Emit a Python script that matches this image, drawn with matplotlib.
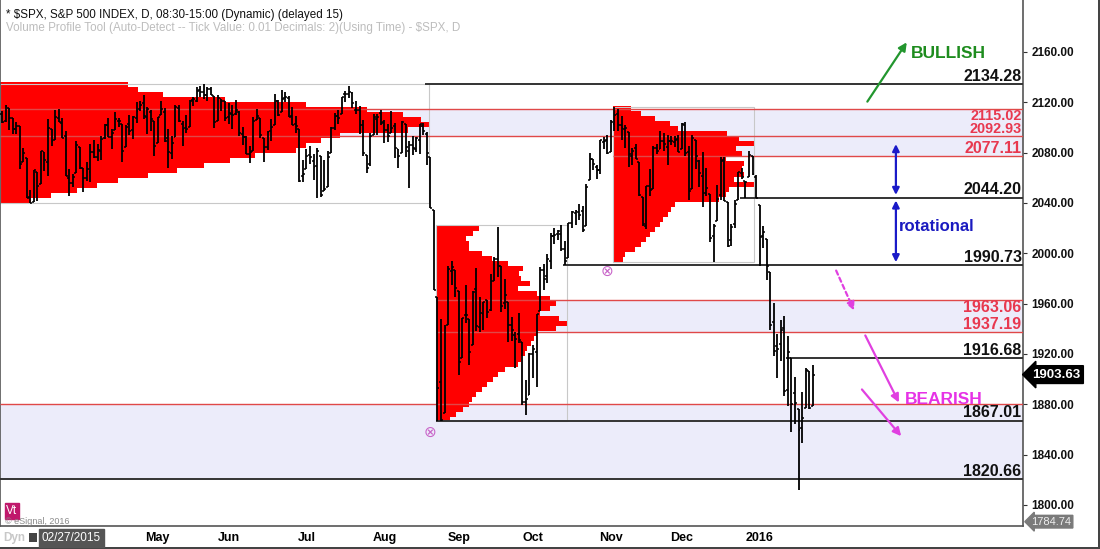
import matplotlib
matplotlib.use("Agg")
import matplotlib.pyplot as plt
from matplotlib.patches import Rectangle
import numpy as np
import pandas as pd

plt.rcParams['font.family'] = ['Liberation Sans', 'DejaVu Sans']

# ---- daily $SPX bars, 02/27/2015 .. 01/26/2016 ----
market_holidays = ['2015-04-03', '2015-05-25', '2015-07-03', '2015-09-07',
                   '2015-11-26', '2015-12-25', '2016-01-01', '2016-01-18']
dates = pd.bdate_range('2015-02-27', '2016-01-26', freq='C', holidays=market_holidays)

opens = [
    2110.9,
    2105.2, 2115.8, 2107.7, 2098.5, 2100.9, 2072.3, 2076.1, 2044.7, 2041.1, 2064.6, 2055.4, 2080.6, 2072.8, 2098.7, 2090.3, 2107.9, 2103.9, 2093.1, 2059.9, 2055.8, 2064.1, 2084.1,
    2067.6, 2060.0, 2064.9, 2080.8, 2076.9, 2081.3, 2091.5, 2102.0, 2092.3, 2097.8, 2105.0, 2102.6, 2084.1, 2102.8, 2098.3, 2107.2, 2114.8, 2119.3, 2108.4, 2112.5, 2105.5,
    2087.4, 2110.2, 2112.6, 2091.3, 2079.9, 2092.1, 2115.6, 2102.9, 2099.6, 2100.4, 2122.1, 2121.3, 2129.5, 2127.8, 2125.6, 2130.4, 2125.3, 2105.1, 2122.3, 2120.7,
    2108.6, 2110.4, 2110.6, 2112.4, 2095.1, 2092.3, 2079.1, 2081.1, 2106.2, 2107.4, 2091.3, 2084.3, 2097.4, 2101.6, 2121.1, 2112.5, 2123.2, 2123.2, 2109.1, 2102.6, 2098.6, 2061.2,
    2067.0, 2078.0, 2073.0, 2069.5, 2077.7, 2049.7, 2052.7, 2080.0, 2099.7, 2109.0, 2110.6, 2126.8, 2126.9, 2127.2, 2114.2, 2114.2, 2102.2, 2078.2, 2070.8, 2094.0, 2106.8, 2111.6,
    2104.5, 2097.7, 2095.3, 2100.8, 2082.6, 2080.0, 2102.7, 2081.1, 2086.2, 2083.2, 2089.7, 2101.4, 2094.5, 2076.6, 2034.1, 1965.2, 1898.1, 1872.8, 1942.8, 1986.1, 1986.7,
    1970.1, 1916.5, 1950.8, 1947.8, 1927.3, 1971.5, 1941.6, 1951.5, 1963.1, 1955.1, 1978.0, 1995.3, 1989.7, 1960.8, 1961.4, 1943.2, 1934.8, 1935.9, 1929.2, 1881.9, 1887.1,
    1919.7, 1921.8, 1954.3, 1986.6, 1982.3, 1994.0, 2013.7, 2015.7, 2015.0, 2003.7, 1996.5, 2024.4, 2031.7, 2033.1, 2033.5, 2021.9, 2058.2, 2075.1, 2068.8, 2066.5, 2088.4, 2090.0,
    2080.8, 2102.6, 2110.6, 2101.7, 2098.6, 2096.6, 2077.2, 2083.4, 2072.3, 2044.6, 2022.1, 2053.7, 2051.0, 2083.7, 2082.8, 2089.4, 2084.4, 2089.3, 2088.8, 2090.9,
    2082.9, 2101.7, 2080.7, 2051.2, 2090.4, 2073.4, 2061.2, 2047.9, 2047.3, 2013.4, 2025.6, 2046.5, 2073.8, 2040.8, 2010.3, 2023.2, 2042.2, 2063.5, 2057.8, 2060.5, 2077.3, 2060.6,
    2038.2, 2013.8, 2011.7, 1985.3, 1945.2, 1926.1, 1927.8, 1940.3, 1891.7, 1916.7, 1888.7, 1876.2, 1861.5, 1877.4, 1906.3, 1878.8,
]
highs = [
    2112.7,
    2117.5, 2115.8, 2107.7, 2104.3, 2100.9, 2083.5, 2076.1, 2050.1, 2066.4, 2064.6, 2081.4, 2080.6, 2106.9, 2098.7, 2113.9, 2114.9, 2107.6, 2097.4, 2067.2, 2062.8, 2088.9, 2084.1,
    2067.6, 2072.2, 2086.9, 2089.8, 2086.7, 2093.3, 2102.6, 2107.7, 2098.6, 2111.9, 2107.9, 2102.6, 2101.9, 2109.6, 2109.0, 2120.5, 2120.9, 2125.9, 2116.0, 2113.7, 2105.5,
    2108.4, 2120.9, 2115.2, 2098.4, 2092.9, 2117.7, 2117.7, 2105.1, 2110.2, 2121.5, 2123.9, 2131.8, 2133.0, 2134.7, 2131.8, 2132.2, 2125.3, 2126.2, 2122.3, 2120.7,
    2119.2, 2117.6, 2121.9, 2112.9, 2100.0, 2093.0, 2085.6, 2108.5, 2115.0, 2107.4, 2091.3, 2097.4, 2106.8, 2126.7, 2121.6, 2129.9, 2128.0, 2125.1, 2116.0, 2108.9, 2098.6, 2074.3,
    2082.8, 2085.1, 2078.6, 2083.7, 2077.7, 2074.3, 2081.3, 2100.7, 2111.4, 2114.1, 2124.4, 2128.9, 2132.8, 2128.5, 2121.1, 2116.9, 2106.0, 2078.2, 2095.6, 2110.6, 2110.5, 2114.2,
    2105.7, 2102.5, 2112.7, 2103.3, 2082.6, 2105.4, 2102.7, 2089.1, 2092.9, 2092.5, 2102.9, 2103.5, 2096.2, 2076.6, 2034.1, 1965.2, 1948.0, 1943.1, 1989.6, 1993.5, 1986.7,
    1970.1, 1948.9, 1975.0, 1947.8, 1970.4, 1988.6, 1965.3, 1961.1, 1963.1, 1983.2, 1997.3, 2020.9, 1989.7, 1979.6, 1961.4, 1949.5, 1937.2, 1952.9, 1929.2, 1899.5, 1920.5,
    1927.2, 1951.4, 1989.2, 1991.6, 1999.3, 2016.5, 2020.1, 2018.7, 2022.3, 2009.6, 2024.2, 2033.5, 2034.5, 2039.1, 2037.9, 2055.2, 2079.7, 2075.1, 2070.4, 2090.4, 2092.5, 2094.3,
    2106.2, 2116.5, 2114.6, 2108.8, 2101.9, 2096.6, 2083.7, 2086.9, 2072.3, 2044.6, 2053.2, 2066.7, 2085.3, 2086.7, 2097.1, 2095.6, 2094.1, 2093.0, 2093.3, 2093.8,
    2103.4, 2104.3, 2085.0, 2093.8, 2090.4, 2073.9, 2080.3, 2067.7, 2047.3, 2022.9, 2053.9, 2076.7, 2076.4, 2040.8, 2022.9, 2042.7, 2064.7, 2067.4, 2057.8, 2081.6, 2077.3, 2062.5,
    2038.2, 2021.9, 2011.7, 1985.3, 1960.4, 1935.7, 1947.4, 1950.3, 1934.5, 1916.7, 1901.4, 1876.2, 1889.9, 1908.9, 1906.3, 1911.0,
]
lows = [
    2103.8,
    2104.5, 2098.3, 2094.5, 2095.2, 2067.3, 2072.2, 2044.2, 2039.7, 2041.1, 2041.2, 2055.4, 2065.1, 2061.2, 2085.6, 2090.3, 2104.4, 2091.5, 2061.1, 2045.5, 2052.9, 2064.1, 2067.0,
    2048.4, 2057.3, 2056.5, 2076.1, 2073.3, 2074.3, 2091.1, 2092.3, 2083.2, 2097.8, 2100.3, 2072.4, 2084.1, 2094.4, 2091.1, 2103.2, 2112.8, 2107.0, 2094.9, 2097.4, 2077.6,
    2087.4, 2110.2, 2088.5, 2067.9, 2074.9, 2092.1, 2104.6, 2085.6, 2096.0, 2100.4, 2116.8, 2120.0, 2124.5, 2122.6, 2120.9, 2126.1, 2099.2, 2105.1, 2112.8, 2104.9,
    2102.5, 2099.1, 2109.6, 2093.2, 2085.7, 2079.1, 2072.1, 2081.1, 2106.2, 2091.3, 2072.5, 2082.1, 2088.9, 2101.6, 2109.5, 2112.5, 2119.9, 2108.6, 2101.8, 2095.4, 2056.6, 2056.3,
    2067.0, 2071.0, 2058.4, 2044.0, 2044.5, 2049.7, 2052.7, 2080.0, 2098.2, 2102.5, 2110.6, 2119.9, 2123.7, 2115.4, 2110.4, 2094.9, 2077.1, 2063.5, 2069.1, 2094.0, 2094.1, 2102.1,
    2087.3, 2088.6, 2095.3, 2075.5, 2067.9, 2080.0, 2076.5, 2052.1, 2078.3, 2080.6, 2079.3, 2094.1, 2070.5, 2035.7, 1970.9, 1867.0, 1867.1, 1872.8, 1942.8, 1975.2, 1965.5,
    1903.1, 1916.5, 1944.7, 1911.2, 1927.3, 1937.9, 1937.2, 1939.2, 1948.3, 1954.3, 1977.9, 1980.8, 1953.5, 1955.8, 1929.2, 1930.0, 1908.9, 1928.9, 1879.2, 1871.9, 1887.1,
    1900.7, 1893.7, 1954.3, 1971.2, 1976.4, 1987.5, 2007.6, 2010.6, 2001.8, 1990.7, 1996.5, 2020.5, 2022.3, 2026.6, 2017.2, 2021.9, 2058.2, 2066.5, 2058.8, 2063.1, 2082.6, 2079.1,
    2080.8, 2097.5, 2096.9, 2090.4, 2083.7, 2068.2, 2069.9, 2074.9, 2045.7, 2022.0, 2019.4, 2045.9, 2051.0, 2078.8, 2082.8, 2081.4, 2070.3, 2086.3, 2084.1, 2080.4,
    2082.9, 2077.1, 2042.4, 2051.2, 2066.8, 2052.3, 2036.5, 2045.7, 2008.8, 1993.3, 2025.6, 2042.4, 2041.7, 2005.3, 2005.9, 2020.5, 2042.2, 2058.7, 2044.2, 2060.5, 2061.9, 2043.6,
    1989.7, 2004.2, 1979.1, 1938.8, 1918.5, 1901.1, 1914.4, 1886.5, 1878.9, 1857.8, 1864.6, 1812.3, 1848.9, 1877.4, 1875.9, 1878.8,
]
closes = [
    2104.5,
    2117.4, 2107.8, 2098.5, 2101.0, 2071.3, 2079.4, 2044.2, 2040.2, 2066.0, 2053.4, 2081.2, 2074.3, 2099.5, 2089.3, 2108.1, 2104.4, 2091.5, 2061.1, 2056.2, 2061.0, 2086.2, 2067.9,
    2059.7, 2067.0, 2080.6, 2076.3, 2081.9, 2091.2, 2102.1, 2092.4, 2095.8, 2106.6, 2105.0, 2081.2, 2100.4, 2097.3, 2108.0, 2112.9, 2117.7, 2108.9, 2114.8, 2106.9, 2085.5,
    2108.3, 2114.5, 2089.5, 2080.2, 2088.0, 2116.1, 2105.3, 2099.1, 2098.5, 2121.1, 2122.7, 2129.2, 2127.8, 2125.9, 2130.8, 2126.1, 2104.2, 2123.5, 2120.8, 2107.4,
    2111.7, 2109.6, 2114.1, 2095.8, 2092.8, 2079.3, 2080.2, 2105.2, 2108.9, 2094.1, 2084.4, 2096.3, 2100.4, 2121.2, 2110.0, 2122.9, 2124.2, 2108.6, 2102.3, 2101.5, 2057.6, 2063.1,
    2077.4, 2076.8, 2068.8, 2081.3, 2046.7, 2051.3, 2076.6, 2099.6, 2109.0, 2107.4, 2124.3, 2126.6, 2128.3, 2119.2, 2114.2, 2102.2, 2079.7, 2067.6, 2093.3, 2108.6, 2108.6, 2103.8,
    2098.0, 2093.3, 2099.8, 2083.6, 2077.6, 2104.2, 2084.1, 2086.1, 2083.4, 2091.5, 2102.4, 2096.9, 2079.6, 2035.7, 1970.9, 1893.2, 1867.6, 1940.5, 1987.7, 1988.9, 1972.2,
    1913.9, 1948.9, 1951.1, 1921.2, 1969.4, 1942.0, 1952.3, 1961.1, 1953.0, 1978.1, 1995.3, 1990.2, 1958.0, 1967.0, 1942.7, 1938.8, 1932.2, 1931.3, 1881.8, 1884.1, 1920.0,
    1923.8, 1951.4, 1987.1, 1979.9, 1995.8, 2013.4, 2014.9, 2017.5, 2003.7, 1994.2, 2023.9, 2033.1, 2033.7, 2030.8, 2018.9, 2052.5, 2075.2, 2071.2, 2065.9, 2090.4, 2089.4, 2079.4,
    2104.1, 2109.8, 2102.3, 2099.9, 2099.2, 2078.6, 2081.7, 2075.0, 2046.0, 2023.0, 2053.2, 2050.4, 2083.6, 2081.2, 2089.2, 2086.6, 2089.1, 2088.9, 2090.1, 2080.4,
    2102.6, 2079.5, 2049.6, 2091.7, 2077.1, 2063.6, 2047.6, 2052.2, 2012.4, 2021.9, 2043.4, 2073.1, 2041.9, 2005.6, 2021.2, 2039.0, 2064.3, 2061.0, 2056.5, 2078.4, 2063.4, 2043.9,
    2012.7, 2016.7, 1990.3, 1943.1, 1922.0, 1923.7, 1938.7, 1890.3, 1921.8, 1880.3, 1881.3, 1859.3, 1869.0, 1906.9, 1877.1, 1903.6,
]

# ---- volume profiles (time at price, 4-point bins, bin bottoms) ----
vp1_from, vp1_to = '2015-02-27', '2015-08-19'
vp1_prices = list(range(2040, 2136, 4))
vp1_counts = [30, 50, 75, 95, 115, 145, 173, 200, 225, 250, 290, 300,
              315, 333, 400, 420, 413, 395, 360, 300, 220, 160, 135, 125]

vp2_from, vp2_to = '2015-08-24', '2015-10-14'
vp2_prices = list(range(1866, 2022, 4))
vp2_counts = [14, 20, 26, 32, 35, 39, 45, 49, 55, 60, 67, 79, 82, 86, 88, 92, 95, 97,
              116, 126, 119, 100, 110, 116, 110, 97, 79, 91, 82, 80, 84, 70, 54, 45,
              32, 32, 29, 36, 42]

vp3_from, vp3_to = '2015-11-03', '2015-12-30'
vp3_prices = list(range(1993, 2117, 4))
vp3_counts = [10, 12, 22, 28, 33, 37, 42, 47, 50, 55, 58, 62, 105, 112, 115, 140,
              120, 130, 128, 130, 112, 128, 122, 140, 125, 113, 65, 57, 42, 28, 18]

# ---- key levels ----
level_prices = [2134.28, 2115.02, 2092.93, 2077.11, 2044.20, 1990.73,
                1963.06, 1937.19, 1916.68, 1880.50, 1867.01, 1820.66]
level_from = ['2015-08-19', '2015-02-27', '2015-02-27', '2015-11-03', '2015-12-24', '2015-10-14',
              '2015-08-24', '2015-08-24', '2016-01-14', '2015-02-27', '2015-08-24', '2015-02-27']
level_kind = ['black', 'red', 'red', 'red', 'black', 'black',
              'red', 'red', 'black', 'red', 'black', 'black']
level_labelled = [True, True, True, True, True, True, True, True, True, False, True, True]
level_label_below = [False, True, False, False, False, False, True, False, False, False, False, False]

band_low = [2092.93, 2077.11, 1937.19, 1820.66]
band_high = [2115.02, 2092.93, 1963.06, 1880.50]
band_from = ['2015-02-27', '2015-11-03', '2015-08-24', '2015-02-27']

pivot_dates = ['2015-08-20', '2015-10-30']
pivot_prices = [1858, 1986]

month_labels = ['May', 'Jun', 'Jul', 'Aug', 'Sep', 'Oct', 'Nov', 'Dec', '2016']
month_starts = ['2015-05-01', '2015-06-01', '2015-07-01', '2015-08-03', '2015-09-01',
                '2015-10-01', '2015-11-02', '2015-12-01', '2016-01-04']

last_price = 1903.63
axis_low = 1784.74


def idx(d):
    return int(dates.get_loc(pd.Timestamp(d)))


W, H = 1100, 549
fig = plt.figure(figsize=(11, 5.49), dpi=100)
ax = fig.add_axes([0, 23 / H, 1023 / W, 1 - 23 / H])
x = np.arange(len(dates))
x_right = 288.4
ax.set_xlim(-0.56, x_right)
ax.set_ylim(1783.3, 2201.3)

LAV = '#ECECFA'
RED_LINE = '#E04848'
RED_TXT = '#E8384F'

for lo, hi, d in zip(band_low, band_high, band_from):
    ax.add_patch(Rectangle((idx(d) - 0.5, lo), x_right - idx(d) + 0.5, hi - lo,
                           color=LAV, lw=0, zorder=0.5))

# volume profiles, longest row stretched over the profile's date range
for d0, d1, prices, counts in [(vp1_from, vp1_to, vp1_prices, vp1_counts),
                               (vp2_from, vp2_to, vp2_prices, vp2_counts),
                               (vp3_from, vp3_to, vp3_prices, vp3_counts)]:
    i0, i1 = idx(d0), idx(d1)
    span = i1 - i0 + 1
    c = np.array(counts, dtype=float)
    ax.barh(prices, c / c.max() * span, height=4, left=i0 - 0.5, align='edge',
            color='#FF0000', lw=0, zorder=2)
    lo = min(lows[i0:i1 + 1])
    hi = max(highs[i0:i1 + 1])
    ax.add_patch(Rectangle((i0 - 0.5, lo), span, hi - lo, fill=False,
                           ec='#C8C8C8', lw=0.8, zorder=2.5))

# levels
tight_pair = {2115.02, 2092.93}
for p, d, k, lab, below in zip(level_prices, level_from, level_kind,
                               level_labelled, level_label_below):
    col = '#333333' if k == 'black' else RED_LINE
    ax.hlines(p, idx(d) - 0.5, x_right, color=col, lw=1.4 if k == 'black' else 1.0, zorder=3)
    if lab:
        ax.text(x_right - 0.4, p + (-0.5 if below else 0.3), f'{p:.2f}',
                ha='right', va='top' if below else 'bottom',
                color='#111111' if k == 'black' else RED_TXT,
                fontsize=10.4 if p in tight_pair else 11.5, fontweight='bold', zorder=5)

# OHLC bars
ax.vlines(x, lows, highs, color='black', lw=1.3, zorder=4)
ax.hlines(opens, x - 0.55, x, color='black', lw=1.1, zorder=4)
ax.hlines(closes, x, x + 0.55, color='black', lw=1.1, zorder=4)

for d, p in zip(pivot_dates, pivot_prices):
    ax.text(idx(d), p, '\u2297', ha='center', va='center', color='#C864C8',
            fontsize=11, family='DejaVu Sans', zorder=5)

# annotations
ax.annotate('', xy=(256.0, 2169.5), xytext=(244.0, 2118.7),
            arrowprops=dict(arrowstyle='-|>', color='#22962E', lw=1.6, mutation_scale=12))
ax.text(256.6, 2159, 'BULLISH', color='#1E8C1E', fontsize=12.5, fontweight='bold',
        ha='left', va='center')
for y0, y1 in [(2044.2, 2089.0), (1990.73, 2044.2)]:
    ax.annotate('', xy=(252.5, y1), xytext=(252.5, y0),
                arrowprops=dict(arrowstyle='<|-|>', color='#1A1AC8', lw=1.6, mutation_scale=10))
ax.text(253.4, 2021.5, 'rotational', color='#1A1AC0', fontsize=12, fontweight='bold',
        ha='left', va='center')
ax.annotate('', xy=(241.0, 1952.6), xytext=(235.3, 1988.3),
            arrowprops=dict(arrowstyle='-|>', color='#E040E0', lw=1.6, ls=(0, (2, 1.5)),
                            mutation_scale=12))
ax.annotate('', xy=(253.7, 1879.5), xytext=(243.5, 1936.7),
            arrowprops=dict(arrowstyle='-|>', color='#E040E0', lw=1.6, mutation_scale=12))
ax.annotate('', xy=(254.5, 1853.0), xytext=(242.4, 1893.5),
            arrowprops=dict(arrowstyle='-|>', color='#E040E0', lw=1.6, mutation_scale=12))
ax.text(255.0, 1883.5, 'BEARISH', color='#E632E6', fontsize=12.5, fontweight='bold',
        ha='left', va='center', zorder=6)

# axes styling
ax.yaxis.tick_right()
ax.set_yticks(range(1800, 2161, 40))
ax.set_yticklabels([f'{v:.2f}' for v in range(1800, 2161, 40)])
ax.tick_params(axis='y', length=3, width=0.8, pad=3, labelsize=8.5, colors='#333333',
               labelcolor='#111111')
for t in ax.get_yticklabels():
    t.set_fontweight('bold')
ax.set_xticks([idx(d) for d in month_starts])
ax.set_xticklabels(month_labels)
ax.tick_params(axis='x', length=0, pad=4, labelsize=9)
for t in ax.get_xticklabels():
    t.set_fontweight('bold')
for s in ['left', 'bottom', 'right']:
    ax.spines[s].set_color('#555555')
    ax.spines[s].set_linewidth(1.2)
ax.spines['top'].set_visible(False)

# price tags on the axis
ax.text(x_right + 2.6, last_price, f'{last_price:.2f}', ha='left', va='center',
        color='white', fontsize=9.5, fontweight='bold', clip_on=False,
        bbox=dict(boxstyle='larrow,pad=0.22', fc='black', ec='black'))
ax.text(x_right + 2.4, axis_low + 2.0, f'{axis_low:.2f}', ha='left', va='center',
        color='#EEEEEE', fontsize=8, clip_on=False,
        bbox=dict(boxstyle='larrow,pad=0.12', fc='#7A7A7A', ec='#7A7A7A'))

# header and footer texts
fig.text(6 / W, 1 - 15 / H, '* $SPX, S&P 500 INDEX, D, 08:30-15:00 (Dynamic) (delayed 15)',
         fontsize=8.4, color='#111111', va='center')
fig.text(6 / W, 1 - 28 / H,
         'Volume Profile Tool (Auto-Detect -- Tick Value: 0.01 Decimals: 2)(Using Time) - $SPX, D',
         fontsize=8.4, color='#BDBDBD', va='center')
fig.text(12 / W, 1 - 511 / H, 'Vt', fontsize=8.5, color='white', ha='center', va='center',
         bbox=dict(boxstyle='square,pad=0.15', fc='#C0186C', ec='#C0186C'))
fig.text(5 / W, 1 - 521 / H, '\u00a9 eSignal, 2016', fontsize=6.5, color='#8A8A8A',
         va='center')
fig.text(3 / W, 1 - 538 / H, 'Dyn', fontsize=8.5, color='#C8C8C8', va='center',
         fontweight='bold')
fig.patches.append(Rectangle((29 / W, 1 - 542 / H), 8 / W, 9 / H, transform=fig.transFigure,
                             fc='#444444', ec='none'))
fig.text(42 / W, 1 - 538 / H, '02/27/2015', fontsize=8.5, color='white', va='center',
         bbox=dict(boxstyle='square,pad=0.25', fc='#555555', ec='#555555'))
fig.patches.append(Rectangle((0, 0), 1, 2 / H, transform=fig.transFigure,
                             fc='#444444', ec='none'))
fig.patches.append(Rectangle((1 - 2 / W, 0), 2 / W, 1, transform=fig.transFigure,
                             fc='#444444', ec='none'))

fig.savefig('out.png', dpi=100)
